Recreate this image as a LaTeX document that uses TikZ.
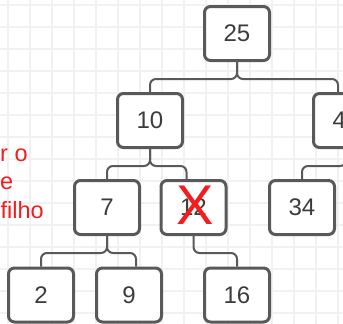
\documentclass[tikz,border=0pt]{standalone}
\usepackage{fontspec}
\setmainfont{Liberation Sans}
\usepackage{xcolor}
\usetikzlibrary{positioning}

\definecolor{boxgray}{HTML}{595959}
\definecolor{numgray}{HTML}{3C3C3C}
\definecolor{gridgray}{HTML}{F1F1F1}
\definecolor{markred}{HTML}{F41C1C}

\begin{document}
\begin{tikzpicture}[
  x=1pt, y=-1pt,
  keybox/.style={draw=boxgray, fill=white, line width=3pt, rounded corners=6pt,
                 minimum width=65pt, minimum height=54pt, inner sep=0pt,
                 text=numgray, font=\fontsize{24}{28}\selectfont},
  link/.style={draw=boxgray, line width=2pt, rounded corners=6pt},
  gridline/.style={draw=gridgray, line width=1.2pt},
  note/.style={anchor=base west, inner sep=0pt, text=markred,
               font=\fontsize{23.5}{28}\selectfont}
]
  \useasboundingbox (0,0) rectangle (343,324);
  \clip (0,0) rectangle (343,324);

  % background grid
  \foreach \gx in {8,30,...,338} \draw[gridline] (\gx,0) -- (\gx,324);
  \foreach \gy in {5,27,...,324} \draw[gridline] (0,\gy) -- (343,\gy);

  % tree nodes
  \node[keybox] (n25) at (237,33.5) {25};
  \node[keybox] (n10) at (150,120.5) {10};
  \node[keybox] (n4x) at (346,120.5) {4\phantom{0}};
  \node[keybox] (n7) at (107,207.5) {7};
  \node[keybox] (n12) at (193.5,207.5) {12};
  \node[keybox] (n34) at (302,207.5) {34};
  \node[keybox] (n2) at (41,295) {2};
  \node[keybox] (n9) at (129,295) {9};
  \node[keybox] (n16) at (237,295) {16};

  % connectors
  \draw[link] (n25.south) -- ++(0,17) -| (n10.north);
  \draw[link] (n25.south) -- ++(0,17) -| ([xshift=-8pt]n4x.north);
  \draw[link] (n10.south) -- ++(0,17) -| (n7.north);
  \draw[link] (n10.south) -- ++(0,17) -| ([xshift=-7pt]n12.north);
  \draw[link] (n4x.south) -- ++(0,17) -| (n34.north);
  \draw[link] (n7.south) -- ++(0,17) -| (n2.north);
  \draw[link] (n7.south) -- ++(0,17) -| ([xshift=7pt]n9.north);
  \draw[link] (n12.south) -- ++(0,17) -| (n16.north);

  % removed key
  \node[text=markred, inner sep=0pt, font=\fontsize{56}{56}\selectfont]
    (cross) at (195,205) {X};

  % side note
  \node[note] (note1) at (0,161) {r o};
  \node[note] (note2) at (0,189) {e};
  \node[note] (note3) at (0.5,218) {filho};
\end{tikzpicture}
\end{document}
